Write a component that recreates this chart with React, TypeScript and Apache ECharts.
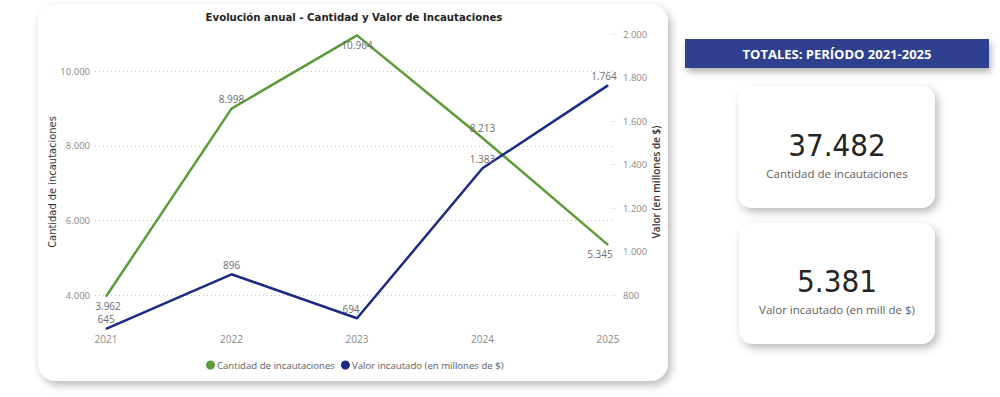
import React, { useEffect, useRef } from "react";
import * as echarts from "echarts";

const years = [2021, 2022, 2023, 2024, 2025];
const cantidad = [3962, 8998, 10964, 8213, 5345];
const valor = [645, 896, 694, 1383, 1764];
const cantidadLabelPos = ["bottom", "top", "bottom", "top", "bottom"];
const valorLabelPos = ["top", "top", "top", "top", "top"];
const leftTicks = [4000, 6000, 8000, 10000];
const rightTicks = [800, 1000, 1200, 1400, 1600, 1800, 2000];
const totalCantidad = "37.482";
const totalValor = "5.381";

const GREEN = "#5b9b3a";
const NAVY = "#1c2a86";

const fmt = (v: number) => String(Math.round(v)).replace(/\B(?=(\d{3})+(?!\d))/g, ".");

export default function App() {
  const ref = useRef<HTMLDivElement>(null);
  useEffect(() => {
    document.body.style.margin = "0";
    const chart = echarts.init(ref.current!, null, { renderer: "svg" });
    const sans = "'Open Sans', 'Noto Sans', sans-serif";
    const din = "'DejaVu Sans Condensed', 'Roboto', sans-serif";

    const cantData = years.map((y, i) => ({
      value: [y, cantidad[i]],
      label: {
        position: cantidadLabelPos[i],
        offset: i === 4 ? [-8, 0] : i === 0 ? [2, 0] : [0, 0],
      },
    }));
    const valData = years.map((y, i) => ({
      value: [y, valor[i]],
      label: { position: valorLabelPos[i], offset: i === 2 ? [-6, 0] : i === 4 ? [-4, 0] : [0, 0] },
    }));

    const card = (x: number, y: number, w: number, h: number, r: number) => ({
      type: "rect",
      z: -5,
      shape: { x, y, width: w, height: h, r },
      style: {
        fill: "#ffffff",
        shadowBlur: 8,
        shadowOffsetX: 3,
        shadowOffsetY: 4,
        shadowColor: "rgba(0,0,0,0.28)",
      },
    });

    chart.setOption({
      animation: false,
      backgroundColor: "#ffffff",
      graphic: [
        card(38, 4, 630, 377, 18),
        {
          type: "text",
          z: 10,
          x: 354,
          y: 17,
          style: {
            text: "Evolución anual - Cantidad y Valor de Incautaciones",
            fill: "#252423",
            font: `bold 11.3px ${din}`,
            align: "center",
            verticalAlign: "middle",
          },
        },
        {
          type: "rect",
          z: -5,
          shape: { x: 685, y: 39, width: 304, height: 29 },
          style: {
            fill: "#2f3f8e",
            shadowBlur: 6,
            shadowOffsetX: 2,
            shadowOffsetY: 4,
            shadowColor: "rgba(0,0,0,0.3)",
          },
        },
        {
          type: "text",
          z: 10,
          x: 837,
          y: 54,
          style: {
            text: "TOTALES: PERÍODO 2021-2025",
            fill: "#ffffff",
            font: `bold 13px ${sans}`,
            align: "center",
            verticalAlign: "middle",
          },
        },
        card(738, 86, 197, 122, 14),
        {
          type: "text",
          z: 10,
          x: 837,
          y: 145,
          style: {
            text: totalCantidad,
            fill: "#252423",
            font: `31px ${din}`,
            align: "center",
            verticalAlign: "middle",
          },
        },
        {
          type: "text",
          z: 10,
          x: 837,
          y: 173,
          style: {
            text: "Cantidad de incautaciones",
            fill: "#605e5c",
            font: `11.5px ${sans}`,
            align: "center",
            verticalAlign: "middle",
          },
        },
        card(739, 223, 196, 121, 14),
        {
          type: "text",
          z: 10,
          x: 837,
          y: 281,
          style: {
            text: totalValor,
            fill: "#252423",
            font: `31px ${din}`,
            align: "center",
            verticalAlign: "middle",
          },
        },
        {
          type: "text",
          z: 10,
          x: 837,
          y: 309,
          style: {
            text: "Valor incautado (en mill de $)",
            fill: "#605e5c",
            font: `11.5px ${sans}`,
            align: "center",
            verticalAlign: "middle",
          },
        },
      ],
      legend: {
        top: 355,
        left: 201,
        itemWidth: 9,
        itemHeight: 9,
        itemGap: 6,
        icon: "circle",
        textStyle: { fontFamily: sans, fontSize: 9.6, color: "#605e5c", padding: [0, 0, 0, -3] },
        data: ["Cantidad de incautaciones", "Valor incautado (en millones de $)"],
      },
      grid: { left: 95, right: 385, top: 34, bottom: 67 },
      xAxis: {
        type: "value",
        min: 2020.912,
        max: 2025.056,
        minInterval: 1,
        maxInterval: 1,
        axisLine: { show: false },
        axisTick: { show: false },
        splitLine: { show: false },
        axisLabel: {
          showMinLabel: false,
          showMaxLabel: false,
          margin: 4,
          color: "#8a8886",
          fontFamily: sans,
          fontSize: 10,
          formatter: (v: number) => String(Math.round(v)),
        },
      },
      yAxis: [
        {
          type: "value",
          position: "left",
          min: 3064,
          max: 11000,
          minInterval: 2000,
          maxInterval: 2000,
          name: "Cantidad de incautaciones",
          nameLocation: "middle",
          nameGap: 37,
          nameMoveOverlap: false,
          nameTextStyle: { fontFamily: din, fontSize: 11, color: "#333333", fontWeight: 500 },
          axisLine: { show: false },
          axisTick: { show: false },
          axisLabel: {
            customValues: leftTicks,
            margin: 5,
            color: "#8a8886",
            fontFamily: sans,
            fontSize: 9.5,
            formatter: (v: number) => fmt(v),
          },
          splitLine: {
            show: true,
            showMinLine: false,
            showMaxLine: false,
            lineStyle: { type: [1, 3], color: "#c8c6c4", width: 1 },
          },
        },
        {
          type: "value",
          position: "right",
          min: 640,
          max: 2000,
          minInterval: 200,
          maxInterval: 200,
          name: "Valor (en millones de $)",
          nameLocation: "middle",
          nameGap: 36,
          nameMoveOverlap: false,
          nameTextStyle: { fontFamily: sans, fontSize: 10, color: "#333333", fontWeight: 600 },
          axisLine: { show: false },
          axisTick: {
            show: true,
            inside: true,
            length: 5,
            customValues: rightTicks,
            lineStyle: { type: [1, 2], color: "#c8c6c4", width: 1 },
          },
          axisLabel: {
            customValues: rightTicks,
            margin: 8,
            color: "#8a8886",
            fontFamily: sans,
            fontSize: 9.5,
            formatter: (v: number) => fmt(v),
          },
          splitLine: { show: false },
        },
      ],
      series: [
        {
          name: "Cantidad de incautaciones",
          type: "line",
          yAxisIndex: 0,
          data: cantData,
          color: GREEN,
          symbol: "circle",
          symbolSize: 1,
          lineStyle: { width: 2.5, color: GREEN },
          label: {
            show: true,
            distance: 4,
            color: "#6e6e6e",
            fontFamily: sans,
            fontSize: 10,
            formatter: (p: any) => fmt(p.value[1]),
          },
          z: 3,
        },
        {
          name: "Valor incautado (en millones de $)",
          type: "line",
          yAxisIndex: 1,
          data: valData,
          color: NAVY,
          symbol: "circle",
          symbolSize: 1,
          lineStyle: { width: 2.5, color: NAVY },
          label: {
            show: true,
            distance: 4,
            color: "#6e6e6e",
            fontFamily: sans,
            fontSize: 10,
            formatter: (p: any) => fmt(p.value[1]),
          },
          z: 4,
        },
      ],
    });
    return () => chart.dispose();
  }, []);
  return <div ref={ref} style={{ width: 1000, height: 397, position: "absolute", left: 0, top: 0 }} />;
}
